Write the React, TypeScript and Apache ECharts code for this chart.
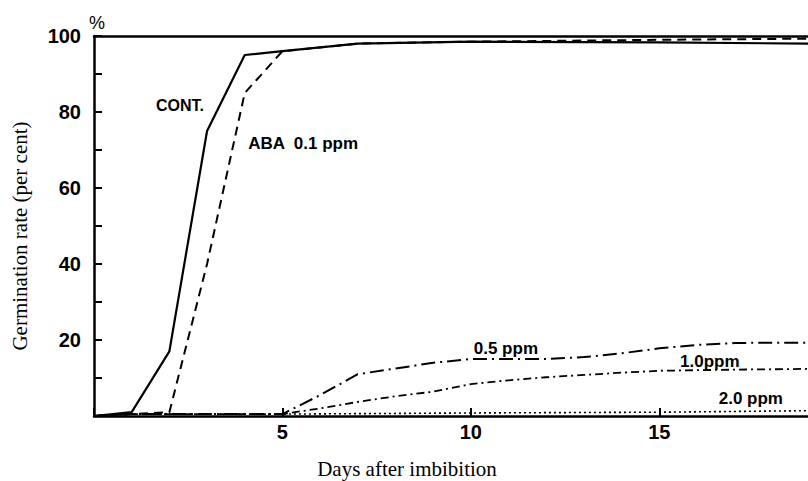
import React, { useEffect, useRef } from "react";
import * as echarts from "echarts";

// Days after imbibition and germination rate (%) for each treatment
const contDays = [0, 1, 2, 3, 4, 5, 7, 10, 15, 19];
const contValues = [0, 1, 17, 75, 95, 96, 98, 98.5, 98.3, 98];

const aba01Days = [0, 1, 2, 3, 4, 5, 7, 10, 15, 19];
const aba01Values = [0, 0.5, 1, 40, 85, 96, 98, 98.5, 99, 99.3];

const aba05Days = [0, 1, 5, 6, 7, 8, 9, 10, 11, 12, 13, 14, 15, 16, 17, 18, 19];
const aba05Values = [0, 0.5, 0.5, 5.5, 11, 12.5, 14, 15, 15, 15, 15.5, 16.5, 17.8, 18.7, 19.2, 19.3, 19.3];

const aba10Days = [0, 1, 5, 6, 7, 8, 9, 10, 11, 12, 13, 14, 15, 17, 19];
const aba10Values = [0, 0.5, 0.5, 2, 3.7, 5.2, 6.4, 8.4, 9.4, 10.2, 10.8, 11.4, 11.9, 12.2, 12.4];

const aba20Days = [0, 1, 5, 10, 15, 19];
const aba20Values = [0, 0.5, 0.5, 0.8, 1.0, 1.4];

const seriesNames = ["CONT.", "ABA 0.1 ppm", "0.5 ppm", "1.0ppm", "2.0 ppm"];
const xTickLabels = ["5", "10", "15"];
const yTickLabels = ["20", "40", "60", "80", "100"];

const pairs = (xs: number[], ys: number[]) => xs.map((x, i) => [x, ys[i]]);

const labelFont = {
  fontFamily: "Liberation Sans, Arial, sans-serif",
  fontWeight: "bold" as const,
  color: "#000",
};

function annot(text: string, coord: number[], fontSize: number) {
  return {
    symbol: "circle",
    symbolSize: 1,
    itemStyle: { color: "rgba(0,0,0,0)" },
    label: {
      show: true,
      position: "inside",
      formatter: text,
      fontSize,
      ...labelFont,
    },
    data: [{ coord }],
  };
}

export default function App() {
  const ref = useRef<HTMLDivElement>(null);

  useEffect(() => {
    if (!ref.current) return;
    const chart = echarts.init(ref.current, null, { renderer: "svg" });
    const axisLine = { show: true, lineStyle: { color: "#000", width: 2.5 } };
    const option: any = {
      animation: false,
      backgroundColor: "#fff",
      title: {
        text: "%",
        left: 84,
        top: 9,
        textStyle: {
          fontSize: 18,
          fontWeight: "normal",
          fontFamily: "Liberation Sans, Arial, sans-serif",
          color: "#000",
        },
      },
      grid: { left: 94, top: 36, width: 716, height: 380, containLabel: false, outerBoundsMode: "none" },
      xAxis: [
        {
          type: "value",
          min: 0,
          max: 19,
          interval: 5,
          axisLine,
          splitLine: { show: false },
          axisTick: { show: true, inside: true, length: 8, lineStyle: { color: "#000", width: 2 } },
          axisLabel: {
            margin: 6,
            fontSize: 20,
            ...labelFont,
            formatter: (v: number) => (xTickLabels.includes(String(v)) ? String(v) : ""),
          },
          name: "Days after imbibition",
          nameLocation: "middle",
          nameGap: 43,
          nameTextStyle: {
            fontFamily: "Liberation Serif, Times New Roman, serif",
            fontSize: 21,
            lineHeight: 20,
            color: "#000",
            padding: [0, 90, 0, 0],
          },
        },
        {
          type: "value",
          position: "top",
          min: 0,
          max: 19,
          axisLine: { show: true, lineStyle: { color: "#000", width: 2.5 } },
          axisTick: { show: false },
          axisLabel: { show: false },
          splitLine: { show: false },
        },
      ],
      yAxis: {
        type: "value",
        min: 0,
        max: 100,
        interval: 10,
        axisLine,
        splitLine: { show: false },
        axisTick: { show: true, inside: true, length: 8, lineStyle: { color: "#000", width: 2 } },
        axisLabel: {
          margin: 13,
          fontSize: 20,
          ...labelFont,
          formatter: (v: number) => (yTickLabels.includes(String(v)) ? String(v) : ""),
        },
        name: "Germination rate (per cent)",
        nameLocation: "middle",
        nameRotate: 90,
        nameGap: 64,
        nameTextStyle: {
          fontFamily: "Liberation Serif, Times New Roman, serif",
          fontSize: 21,
          color: "#000",
          padding: [0, 20, 0, 0],
        },
      },
      series: [
        {
          name: seriesNames[0],
          type: "line",
          data: pairs(contDays, contValues),
          showSymbol: false,
          lineStyle: { color: "#000", width: 2.2, type: "solid" },
          markPoint: annot("CONT.", [2.28, 81.6], 16),
        },
        {
          name: seriesNames[1],
          type: "line",
          data: pairs(aba01Days, aba01Values),
          showSymbol: false,
          lineStyle: { color: "#000", width: 2, type: [9, 6] },
          markPoint: annot("ABA  0.1 ppm", [5.55, 71.8], 17),
        },
        {
          name: seriesNames[2],
          type: "line",
          data: pairs(aba05Days, aba05Values),
          showSymbol: false,
          lineStyle: { color: "#000", width: 2, type: [14, 5, 2, 5] },
          markPoint: annot("0.5 ppm", [10.93, 17.8], 17),
        },
        {
          name: seriesNames[3],
          type: "line",
          data: pairs(aba10Days, aba10Values),
          showSymbol: false,
          lineStyle: { color: "#000", width: 1.8, type: [8, 4, 2, 4] },
          markPoint: annot("1.0ppm", [16.34, 14.4], 17),
        },
        {
          name: seriesNames[4],
          type: "line",
          data: pairs(aba20Days, aba20Values),
          showSymbol: false,
          lineStyle: { color: "#000", width: 1.6, type: [2, 3] },
          markPoint: annot("2.0 ppm", [17.43, 4.6], 17),
        },
      ],
    };
    chart.setOption(option);
    return () => chart.dispose();
  }, []);

  return (
    <div
      ref={ref}
      style={{ position: "absolute", left: 0, top: 0, width: 808, height: 481, background: "#fff" }}
    />
  );
}
